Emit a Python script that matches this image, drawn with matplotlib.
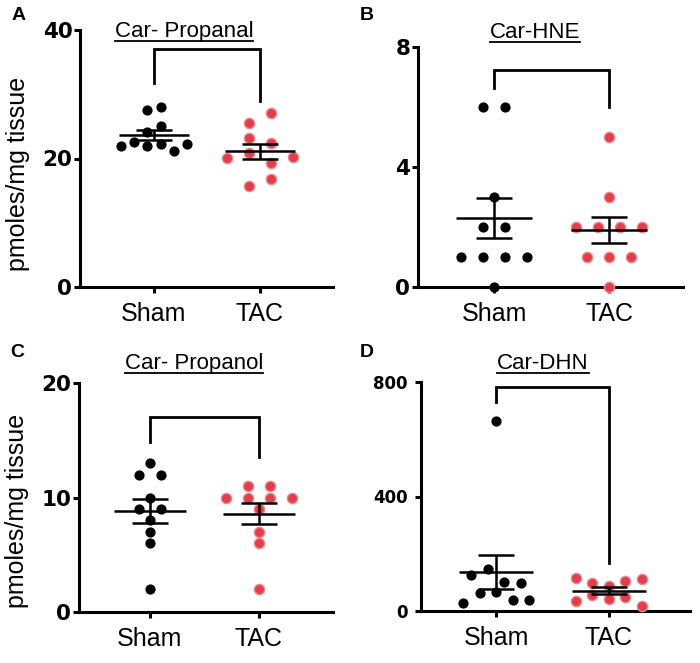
import numpy as np
import matplotlib.pyplot as plt
from matplotlib.lines import Line2D

# -----------------------------------------------------
# Style
# -----------------------------------------------------
plt.rcParams.update({
    "font.family": "Liberation Sans",
    "axes.linewidth": 2.2,
    "xtick.major.width": 2.2,
    "ytick.major.width": 2.2,
    "xtick.major.size": 4.5,
    "ytick.major.size": 4.5,
})

# -----------------------------------------------------
# Data
# -----------------------------------------------------
groups = ["Sham", "TAC"]

# A: Car- Propanal
propanal_sham = [27.5, 28.0, 24.2, 25.0, 22.0, 22.6, 22.0, 22.3, 21.2, 22.3]
propanal_tac = [25.5, 27.1, 23.2, 22.4, 20.1, 20.9, 19.3, 20.2, 15.7, 16.8]
propanal_bracket = [31.7, 37.0, 29.0]   # left leg end, top, right leg end

# B: Car-HNE
hne_sham = [6, 6, 3, 2, 2, 1, 1, 1, 1, 0]
hne_tac = [5, 3, 2, 2, 2, 2, 1, 1, 1, 0]
hne_bracket = [6.65, 7.25, 6.0]

# C: Car- Propanol
propanol_sham = [13, 12, 12, 10, 9, 9, 8, 7, 6, 2]
propanol_tac = [11, 11, 10, 10, 10, 10, 9, 7, 6, 2]
propanol_bracket = [14.85, 17.0, 13.5]

# D: Car-DHN
dhn_sham = [664, 126, 147, 101, 98, 28, 63, 66, 38, 38]
dhn_tac = [115, 98, 87, 105, 112, 35, 56, 42, 49, 17]
dhn_bracket = [730, 782, 166]

FIG_W, FIG_H = 700, 663
RED = "#df3f4b"
RED_EDGE = "#ef868d"


def swarm_offsets(values, tol, step=22.0, max_width=66.0):
    """Prism-like row layout, offsets in pixels."""
    vals = np.asarray(values, float)
    order = np.argsort(vals, kind="stable")
    rows, current, start = [], [], None
    for i in order:
        if start is None or vals[i] - start > tol:
            if current:
                rows.append(current)
            current, start = [i], vals[i]
        else:
            current.append(i)
    rows.append(current)
    widest = max(len(r) for r in rows)
    if widest > 1:
        step = min(step, max_width / (widest - 1))
    offs = np.zeros(len(vals))
    for r in rows:
        r = sorted(r)
        n = len(r)
        for k, i in enumerate(r):
            offs[i] = (k - (n - 1) / 2) * step
    return offs


fig = plt.figure(figsize=(FIG_W / 100, FIG_H / 100), dpi=100)


def px_axes(left, right, top, bottom):
    return fig.add_axes([left / FIG_W, 1 - bottom / FIG_H,
                         (right - left) / FIG_W, (bottom - top) / FIG_H])


panels = [
    # letter, title, sham, tac, bracket, box(px), xlim, ymax, yticks, tol,
    # ylabel, title pos(px), letter pos(px)
    ("A", "Car- Propanal", propanal_sham, propanal_tac, propanal_bracket,
     (80, 333, 30, 287), (-0.698, 1.689), 40, [0, 20, 40], 1.7, True,
     (184, 37), (12, 20)),
    ("B", "Car-HNE", hne_sham, hne_tac, hne_bracket,
     (418, 683, 47, 287), (-0.661, 1.643), 8, [0, 4, 8], 0.5, False,
     (535, 38), (360, 20)),
    ("C", "Car- Propanol", propanol_sham, propanol_tac, propanol_bracket,
     (79, 333, 383, 612), (-0.651, 1.679), 20, [0, 10, 20], 0.5, True,
     (194, 369), (10, 357)),
    ("D", "Car-DHN", dhn_sham, dhn_tac, dhn_bracket,
     (421, 690, 382, 611), (-0.664, 1.717), 800, [0, 400, 800], 50, False,
     (543, 369), (360, 357)),
]

title_texts = []

for (letter, title, sham, tac, bracket, box, xlim, ymax, yticks, tol,
     ylabel, title_pos, letter_pos) in panels:
    ax = px_axes(*box)
    ax.set_xlim(*xlim)
    ax.set_ylim(0, ymax)
    px_per_unit = (box[1] - box[0]) / (xlim[1] - xlim[0])

    for xi, vals in enumerate([sham, tac]):
        vals = np.asarray(vals, float)
        dx = swarm_offsets(vals, tol) / px_per_unit
        if xi == 0:
            ax.scatter(xi + dx, vals, s=54, color="black", zorder=3,
                       clip_on=False, linewidths=0)
        else:
            ax.scatter(xi + dx, vals, s=54, color=RED, edgecolors=RED_EDGE,
                       linewidths=1.0, zorder=3, clip_on=False)

        mean = vals.mean()
        sem = vals.std(ddof=1) / np.sqrt(len(vals))
        ax.hlines(mean, xi - 0.33, xi + 0.33, color="black", lw=1.8, zorder=4)
        ax.errorbar(xi, mean, yerr=sem, fmt="none", ecolor="black",
                    elinewidth=1.8, capsize=13, capthick=1.8, zorder=4)

    # significance bracket
    ax.plot([0, 0, 1, 1], [bracket[0], bracket[1], bracket[1], bracket[2]],
            color="black", lw=2.0, clip_on=False, solid_joinstyle="miter")

    ax.spines["top"].set_visible(False)
    ax.spines["right"].set_visible(False)

    ax.set_xticks([0, 1], groups, fontsize=18)
    ax.tick_params(axis="x", pad=6)
    ax.set_yticks(yticks)
    if ymax == 800:
        ax.tick_params(axis="y", labelsize=12, pad=5)
    else:
        ax.tick_params(axis="y", labelsize=15.5, pad=1)
    for lab in ax.get_yticklabels():
        lab.set_fontweight("bold")
        lab.set_family("DejaVu Sans")

    if ylabel:
        ax.set_ylabel("pmoles/mg tissue", fontsize=18)
        ax.yaxis.set_label_coords(-0.196, 0.44)

    t = fig.text(title_pos[0] / FIG_W, 1 - title_pos[1] / FIG_H, title,
                 ha="center", va="baseline", fontsize=16)
    title_texts.append(t)
    fig.text(letter_pos[0] / FIG_W, 1 - letter_pos[1] / FIG_H, letter,
             ha="left", va="baseline", fontsize=14, fontweight="bold")

# underline the panel titles
fig.canvas.draw()
renderer = fig.canvas.get_renderer()
for t in title_texts:
    bb = t.get_window_extent(renderer).transformed(fig.transFigure.inverted())
    y = t.get_position()[1] - 4.0 / FIG_H
    fig.add_artist(Line2D([bb.x0, bb.x1], [y, y], transform=fig.transFigure,
                          color="black", lw=1.3))

fig.savefig("out.png", dpi=100)
